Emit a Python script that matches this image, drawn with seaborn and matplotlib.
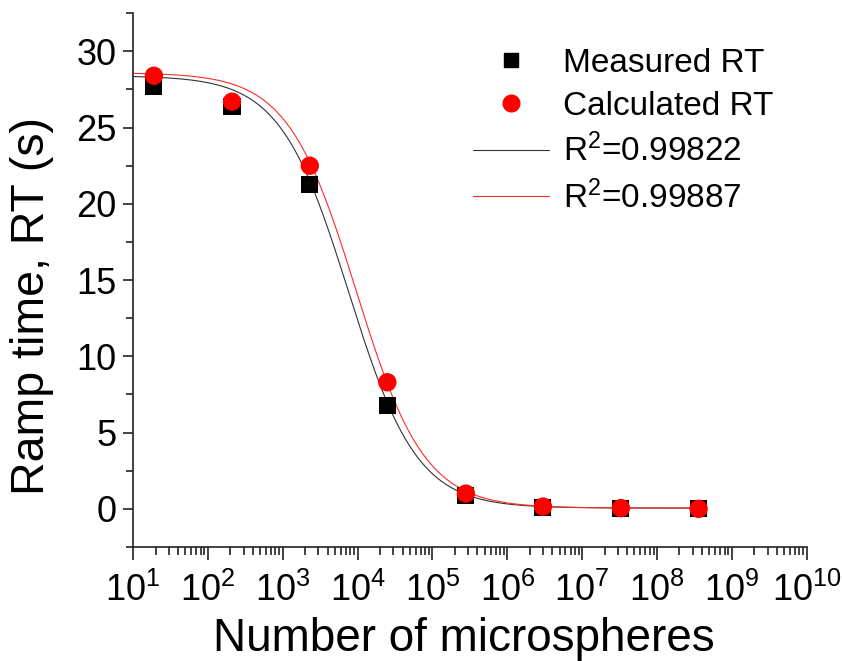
import numpy as np
import pandas as pd
import matplotlib
matplotlib.use("Agg")
import matplotlib.pyplot as plt
import seaborn as sns
from matplotlib.ticker import LogLocator, LogFormatterMathtext, MultipleLocator, NullFormatter
from matplotlib.lines import Line2D

# ---- data ----
n_spheres = [19, 210, 2300, 25000, 2.8e5, 3.0e6, 3.3e7, 3.6e8]
measured_rt = [27.7, 26.4, 21.3, 6.8, 0.9, 0.1, 0.0, 0.0]
calculated_rt = [28.4, 26.7, 22.5, 8.3, 1.0, 0.15, 0.05, 0.0]

# dose-response fit parameters (bottom, top, log x0, slope)
fit_measured = dict(bottom=0.05, top=28.4, logx0=3.88, p=0.95)
fit_calculated = dict(bottom=0.05, top=28.6, logx0=3.98, p=0.95)
r2_labels = ["R$^2$=0.99822", "R$^2$=0.99887"]
series_labels = ["Measured RT", "Calculated RT"]
x_ticks = [1e1, 1e2, 1e3, 1e4, 1e5, 1e6, 1e7, 1e8, 1e9, 1e10]


def dose_resp(logx, bottom, top, logx0, p):
    return bottom + (top - bottom) / (1 + 10 ** (p * (logx - logx0)))


sns.set_theme(style="ticks")
plt.rcParams['font.family'] = ['Liberation Sans', 'DejaVu Sans']
plt.rcParams['mathtext.fontset'] = 'custom'
plt.rcParams['mathtext.rm'] = 'Liberation Sans'
plt.rcParams['mathtext.it'] = 'Liberation Sans:italic'
plt.rcParams['mathtext.bf'] = 'Liberation Sans:bold'
plt.rcParams['text.color'] = 'black'
plt.rcParams['axes.labelcolor'] = 'black'

fig = plt.figure(figsize=(8.42, 6.61), dpi=100)
ax = fig.add_axes([0.158, 0.1725, 0.80, 0.8075])

logx_fit = np.linspace(np.log10(10), np.log10(n_spheres[-1]), 400)
fit_df = pd.DataFrame({
    "x": np.concatenate([10 ** logx_fit, 10 ** logx_fit]),
    "y": np.concatenate([dose_resp(logx_fit, **fit_measured), dose_resp(logx_fit, **fit_calculated)]),
    "fit": [r2_labels[0]] * len(logx_fit) + [r2_labels[1]] * len(logx_fit),
})

pts_df = pd.DataFrame({
    "x": n_spheres + n_spheres,
    "y": measured_rt + calculated_rt,
    "series": [series_labels[0]] * len(n_spheres) + [series_labels[1]] * len(n_spheres),
})

sns.lineplot(data=fit_df, x="x", y="y", hue="fit",
             palette={r2_labels[0]: "#333333", r2_labels[1]: "#ff2a2a"},
             linewidth=0.8, ax=ax, legend=False, zorder=2, estimator=None, sort=False)

sns.scatterplot(data=pts_df[pts_df.series == series_labels[0]], x="x", y="y",
                marker="s", color="black", s=150, edgecolor="none", ax=ax, legend=False, zorder=3)
sns.scatterplot(data=pts_df[pts_df.series == series_labels[1]], x="x", y="y",
                marker="o", color="#ff0000", s=175, edgecolor="none", ax=ax, legend=False, zorder=4)

ax.set_xscale("log")
ax.set_xlim(10, 1e10)
ax.set_ylim(-2.5, 32.5)
ax.set_xticks(x_ticks)
ax.xaxis.set_major_formatter(LogFormatterMathtext())
ax.xaxis.set_minor_locator(LogLocator(base=10, subs=np.arange(2, 10), numticks=20))
ax.xaxis.set_minor_formatter(NullFormatter())
ax.yaxis.set_major_locator(MultipleLocator(5))
ax.yaxis.set_minor_locator(MultipleLocator(2.5))

for s in ["top", "right"]:
    ax.spines[s].set_visible(False)
for s in ["left", "bottom"]:
    ax.spines[s].set_linewidth(1.2)
    ax.spines[s].set_color("#222222")

ax.tick_params(axis="x", which="major", length=9.5, width=1.2, color="#222222",
               labelsize=26, pad=9, labelcolor="black")
ax.tick_params(axis="x", which="minor", length=6, width=1.2, color="#222222")
ax.tick_params(axis="y", which="major", length=7, width=1.2, color="#222222",
               labelsize=26, pad=5, labelcolor="black")
ax.tick_params(axis="y", which="minor", length=5, width=1.2, color="#222222")

ax.set_xlabel("Number of microspheres", fontsize=33)
ax.set_ylabel("Ramp time, RT (s)", fontsize=33.5)
ax.xaxis.set_label_coords(0.491, -0.131)
ax.yaxis.set_label_coords(-0.150, 0.451)
ax.yaxis.label.set_verticalalignment("center")

handles = [
    Line2D([], [], marker="s", color="black", linestyle="none", markersize=10),
    Line2D([], [], marker="o", color="#ff0000", linestyle="none", markersize=12),
    Line2D([], [], color="#333333", linewidth=0.8),
    Line2D([], [], color="#ff2a2a", linewidth=0.8),
]
ax.legend(handles, series_labels + r2_labels, loc="upper right", bbox_to_anchor=(0.97, 0.96),
          frameon=False, fontsize=24, handlelength=2.3, handletextpad=0.4, labelspacing=0.36,
          borderaxespad=0)

fig.savefig("out.png", dpi=100)
